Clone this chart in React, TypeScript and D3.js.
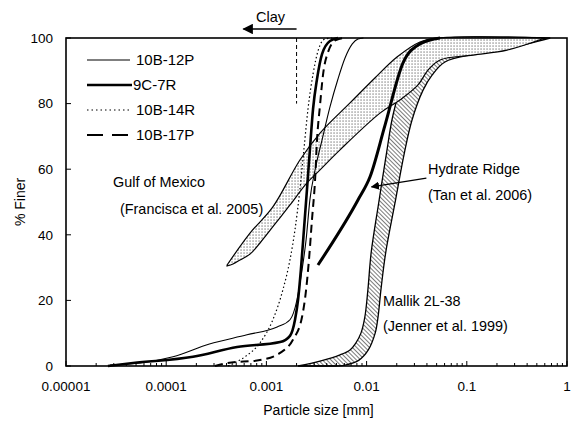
import React from 'react';
import * as d3 from 'd3';

// Particle size distributions: [size in mm, % finer]
const sample10B12P: [number, number][] = [
  [2.75e-5, 0.3], [5.5e-5, 0.9], [1.17e-4, 2.8], [2.7e-4, 6.7], [6.4e-4, 9.5], [1.28e-3, 11.9],
  [1.72e-3, 14.1], [2.02e-3, 20.2], [2.27e-3, 29.4], [2.49e-3, 38.5], [2.72e-3, 50.8], [3.06e-3, 59.8],
  [3.59e-3, 68.9], [4.31e-3, 79.0], [5.18e-3, 87.5], [6.09e-3, 93.9], [7.2e-3, 98.2], [8.2e-3, 99.7], [9.3e-3, 100],
];
const sample9C7R: [number, number][] = [
  [2.62e-5, 0], [4.67e-5, 0.9], [1.85e-4, 2.8], [5.1e-4, 5.8], [1.37e-3, 7.3], [1.72e-3, 9.2],
  [1.93e-3, 14.1], [2.07e-3, 20.2], [2.21e-3, 29.4], [2.37e-3, 41.6], [2.54e-3, 53.8], [2.72e-3, 66.1],
  [2.92e-3, 78.3], [3.2e-3, 87.5], [3.59e-3, 95.1], [4.31e-3, 99.1], [5.18e-3, 100],
];
const sample10B14R: [number, number][] = [
  [4.14e-4, 0], [6.1e-4, 2.8], [8.6e-4, 7.0], [1.16e-3, 14.1], [1.46e-3, 23.2], [1.72e-3, 32.4],
  [1.93e-3, 41.6], [2.16e-3, 53.8], [2.37e-3, 66.1], [2.6e-3, 78.3], [2.92e-3, 89.0], [3.27e-3, 96.0],
  [3.84e-3, 99.7], [4.62e-3, 100],
];
const sample10B17P: [number, number][] = [
  [3.07e-4, 0], [4.05e-4, 0.9], [8.6e-4, 1.8], [1.37e-3, 4.0], [1.84e-3, 8.0], [2.27e-3, 15.0],
  [2.49e-3, 23.2], [2.66e-3, 32.4], [2.85e-3, 44.6], [3.06e-3, 56.7], [3.2e-3, 68.9], [3.43e-3, 79.6],
  [3.67e-3, 88.7], [4.12e-3, 95.7], [4.95e-3, 99.4], [6.09e-3, 100],
];

// Hydrate Ridge (Tan et al. 2006)
const hydrateRidge: [number, number][] = [
  [3.27e-3, 30.8], [8.2e-3, 50.6], [1.08e-2, 57.6], [1.53e-2, 73.5], [2.31e-2, 92.4], [3.41e-2, 98.2], [5.41e-2, 100],
];

// Gulf of Mexico envelope (Francisca et al. 2005)
const gulfUpper: [number, number][] = [
  [4.05e-4, 30.8], [6.86e-4, 40.5], [1.16e-3, 48.5], [2.16e-3, 62.8], [3.43e-3, 71.0], [6.83e-3, 80.2],
  [1.21e-2, 87.8], [2.01e-2, 94.2], [3.41e-2, 98.8], [5.04e-2, 100], [0.6, 100],
];
const gulfLower: [number, number][] = [
  [4.05e-4, 30.5], [4.64e-4, 31.1], [5.45e-4, 32.3], [6.86e-4, 34.1], [8.63e-4, 37.5], [1.22e-3, 43.3],
  [1.72e-3, 49.1], [2.54e-3, 55.8], [3.43e-3, 59.8], [5.43e-3, 65.9], [1.36e-2, 77.1], [2.15e-2, 81.1],
  [3.26e-2, 85.7], [4.1e-2, 90.2], [5.41e-2, 93.3], [0.115, 94.8], [0.252, 96.3], [0.6, 100],
];

// Mallik 2L-38 envelope (Jenner et al. 1999)
const mallikLeft: [number, number][] = [
  [2.07e-3, 0], [3.43e-3, 1.5], [5.43e-3, 3.4], [6.83e-3, 4.9], [7.8e-3, 7.0], [8.8e-3, 10.1],
  [9.6e-3, 14.9], [1.03e-2, 23.2], [1.11e-2, 34.5], [1.32e-2, 49.7], [1.58e-2, 64.9], [1.79e-2, 75.0],
  [2.06e-2, 82.6], [2.42e-2, 90.2], [3.04e-2, 95.7], [4.1e-2, 98.8], [6.05e-2, 100], [0.68, 100],
];
const mallikRight: [number, number][] = [
  [4.31e-3, 0], [6.09e-3, 0.3], [8.4e-3, 1.8], [1.04e-2, 4.9], [1.22e-2, 10.1], [1.3e-2, 14.9],
  [1.39e-2, 23.2], [1.55e-2, 34.5], [1.92e-2, 49.7], [2.38e-2, 64.9], [2.84e-2, 75.0], [3.66e-2, 84.1],
  [4.5e-2, 88.7], [6.05e-2, 92.7], [0.121, 95.1], [0.27, 97.0], [0.68, 100],
];

const xTicks = [1e-5, 1e-4, 1e-3, 1e-2, 1e-1, 1];
const xTickLabels = ['0.00001', '0.0001', '0.001', '0.01', '0.1', '1'];
const yTicks = [0, 20, 40, 60, 80, 100];

const clayLimit = 0.002;

const FONT = '"Liberation Sans", Arial, Helvetica, sans-serif';

export default function App() {
  const W = 571;
  const H = 423;
  const left = 66, right = 567, top = 38, bottom = 366;

  const x = d3.scaleLog().domain([1e-5, 1]).range([left, right]);
  const y = d3.scaleLinear().domain([0, 100]).range([bottom, top]);

  const line = d3
    .line<[number, number]>()
    .x((d) => x(d[0]))
    .y((d) => y(d[1]))
    .curve(d3.curveMonotoneX);

  const ring = d3
    .line<[number, number]>()
    .x((d) => x(d[0]))
    .y((d) => y(d[1]))
    .curve(d3.curveCatmullRom.alpha(0.5));

  const bandPath = (a: [number, number][], b: [number, number][]) =>
    ring([...a, ...b.slice().reverse()]) + 'Z';

  const minorTicks: number[] = [];
  for (let e = -5; e < 0; e++) {
    for (let m = 2; m <= 9; m++) minorTicks.push(m * Math.pow(10, e));
  }

  const series = [
    { name: '10B-12P', data: sample10B12P, width: 1.1, dash: undefined as string | undefined, legendDash: undefined as string | undefined },
    { name: '9C-7R', data: sample9C7R, width: 2.6, dash: undefined, legendDash: undefined },
    { name: '10B-14R', data: sample10B14R, width: 1.2, dash: '1.5,2.5', legendDash: '1.5,3' },
    { name: '10B-17P', data: sample10B17P, width: 2, dash: '8,5', legendDash: '16,9' },
  ];

  const legendY = [60, 85, 110, 135];

  return (
    <svg
      width={W}
      height={H}
      style={{ position: 'absolute', left: 0, top: 0, background: '#fff' }}
      fontFamily={FONT}
    >
      <defs>
        <pattern id="stipple" width="3" height="3" patternUnits="userSpaceOnUse">
          <rect width="3" height="3" fill="#fff" />
          <rect x="0.5" y="0.5" width="1.1" height="1.1" fill="#555" />
        </pattern>
        <pattern id="hatch" width="3" height="3" patternUnits="userSpaceOnUse" patternTransform="rotate(-45)">
          <rect width="3" height="3" fill="#fff" />
          <line x1="0" y1="0" x2="0" y2="3" stroke="#222" strokeWidth="1.2" />
        </pattern>
        <marker id="arrowHead" viewBox="0 0 10 10" refX="9" refY="5" markerWidth="7" markerHeight="7" orient="auto-start-reverse">
          <path d="M0,0 L10,5 L0,10 Z" fill="#000" />
        </marker>
      </defs>

      <rect x={0} y={0} width={W} height={H} fill="#fff" />

      {/* Mallik 2L-38 envelope */}
      <path d={bandPath(mallikLeft, mallikRight)} fill="url(#hatch)" stroke="#000" strokeWidth={1.3} />

      {/* Gulf of Mexico envelope */}
      <path d={bandPath(gulfUpper, gulfLower)} fill="url(#stipple)" stroke="#000" strokeWidth={1.2} />

      {/* Hydrate Ridge */}
      <path d={line(hydrateRidge) || ''} fill="none" stroke="#000" strokeWidth={3} />

      {/* Samples */}
      {series.map((s) => (
        <path
          key={s.name}
          d={line(s.data) || ''}
          fill="none"
          stroke="#000"
          strokeWidth={s.width}
          strokeDasharray={s.dash}
        />
      ))}

      {/* Clay boundary */}
      <line
        x1={x(clayLimit)}
        x2={x(clayLimit)}
        y1={y(100)}
        y2={y(80)}
        stroke="#000"
        strokeWidth={1}
        strokeDasharray="4,3"
      />

      {/* Frame */}
      <rect x={left} y={top} width={right - left} height={bottom - top} fill="none" stroke="#000" strokeWidth={1.6} />

      {/* Y ticks */}
      {yTicks.map((t) => (
        <g key={t}>
          <line x1={left} x2={left + 5} y1={y(t)} y2={y(t)} stroke="#000" strokeWidth={1} />
          <text x={left - 13} y={y(t)} dy="0.36em" textAnchor="end" fontSize={13.5}>
            {t}
          </text>
        </g>
      ))}

      {/* X ticks */}
      {minorTicks.map((t, i) => (
        <line key={i} x1={x(t)} x2={x(t)} y1={bottom} y2={bottom - 3} stroke="#000" strokeWidth={1} />
      ))}
      {xTicks.map((t, i) => (
        <g key={t}>
          <line x1={x(t)} x2={x(t)} y1={bottom} y2={bottom - 5} stroke="#000" strokeWidth={1} />
          <text x={x(t)} y={bottom + 25} textAnchor="middle" fontSize={13.5}>
            {xTickLabels[i]}
          </text>
        </g>
      ))}

      {/* Axis titles */}
      <text x={(left + right) / 2 + 2} y={415} textAnchor="middle" fontSize={14}>
        Particle size [mm]
      </text>
      <text transform={`translate(25, ${(top + bottom) / 2}) rotate(-90)`} textAnchor="middle" fontSize={14}>
        % Finer
      </text>

      {/* Clay arrow */}
      <line
        x1={x(clayLimit)}
        x2={x(5.9e-4)}
        y1={29}
        y2={29}
        stroke="#000"
        strokeWidth={1.5}
        markerEnd="url(#arrowHead)"
      />
      <text x={x(1.1e-3)} y={22} textAnchor="middle" fontSize={14.5}>
        Clay
      </text>

      {/* Legend */}
      {series.map((s, i) => (
        <g key={s.name}>
          <line
            x1={87}
            x2={i === 1 ? 132 : 130}
            y1={legendY[i]}
            y2={legendY[i]}
            stroke="#000"
            strokeWidth={s.width}
            strokeDasharray={s.legendDash}
          />
          <text x={i === 1 ? 133 : 136} y={legendY[i]} dy="0.36em" fontSize={15}>
            {s.name}
          </text>
        </g>
      ))}

      {/* Annotations */}
      <text x={113} y={187} fontSize={14.4}>Gulf of Mexico</text>
      <text x={120} y={214} fontSize={14.4}>(Francisca et al. 2005)</text>

      <text x={428} y={174} fontSize={14.4}>Hydrate Ridge</text>
      <text x={428} y={200} fontSize={14.4}>(Tan et al. 2006)</text>
      <line
        x1={x(0.0395)}
        y1={y(57.3)}
        x2={x(0.0112)}
        y2={y(54.6)}
        stroke="#000"
        strokeWidth={1.2}
        markerEnd="url(#arrowHead)"
      />

      <text x={383} y={306} fontSize={14.4}>Mallik 2L-38</text>
      <text x={383} y={331} fontSize={14.4}>(Jenner et al. 1999)</text>
    </svg>
  );
}
